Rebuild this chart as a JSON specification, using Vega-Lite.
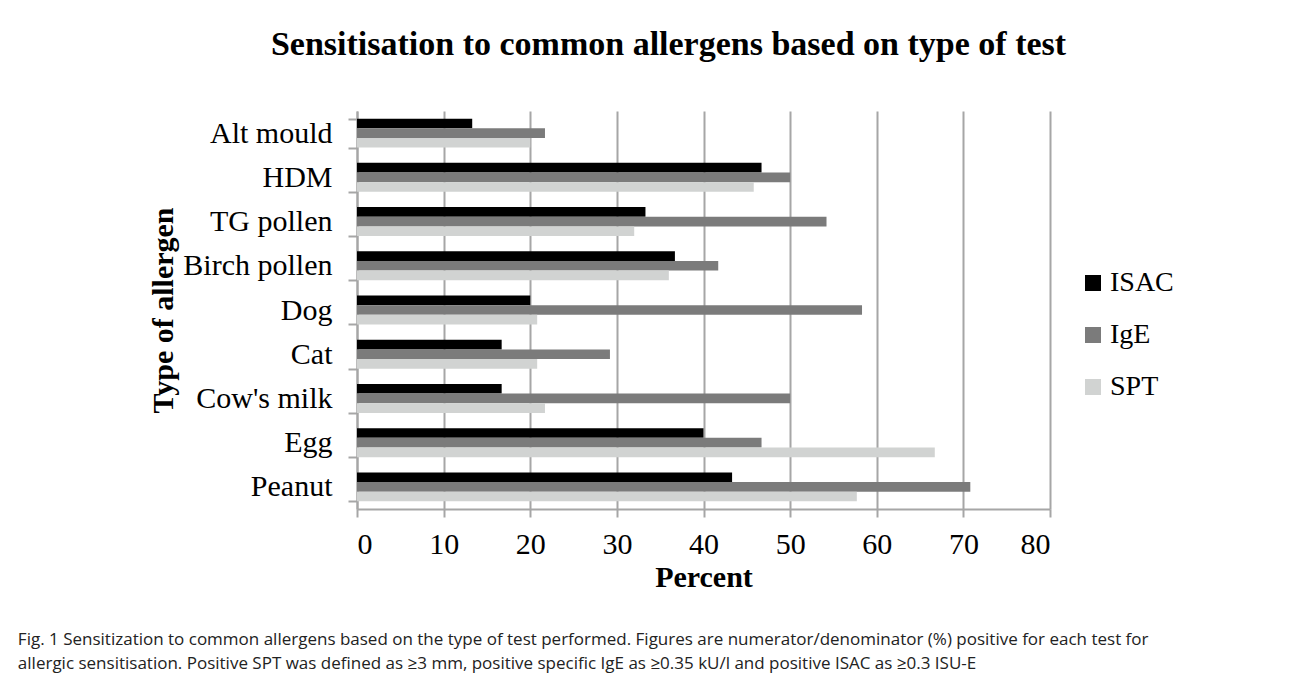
{
  "$schema": "https://vega.github.io/schema/vega-lite/v6.json",
  "background": "white",
  "padding": {"left": 17, "top": 28, "right": 10, "bottom": 10},
  "title": {
    "text": ["Fig. 1  Sensitization to common allergens based on the type of test performed. Figures are numerator/denominator (%) positive for each test for", "allergic sensitisation. Positive SPT was defined as ≥3 mm, positive specific IgE as ≥0.35 kU/l and positive ISAC as ≥0.3 ISU-E"],
    "orient": "bottom",
    "anchor": "start",
    "frame": "bounds",
    "dx": -131,
    "offset": 40,
    "font": "Open Sans",
    "fontSize": 17,
    "fontWeight": "normal",
    "color": "#222222",
    "lineHeight": 24
  },
  "vconcat": [
    {
      "width": 693,
      "height": 398,
      "title": {
        "text": "Sensitisation to common allergens based on type of test",
        "font": "Liberation Serif",
        "fontSize": 34,
        "fontWeight": "bold",
        "color": "#000000",
        "anchor": "middle",
        "frame": "group",
        "dx": -35,
        "offset": 34
      },
      "data": {
        "values": [
          {"allergen": "Alt mould", "test": "ISAC", "percent": 13.3},
          {"allergen": "Alt mould", "test": "IgE", "percent": 21.7},
          {"allergen": "Alt mould", "test": "SPT", "percent": 20.0},
          {"allergen": "HDM", "test": "ISAC", "percent": 46.7},
          {"allergen": "HDM", "test": "IgE", "percent": 50.0},
          {"allergen": "HDM", "test": "SPT", "percent": 45.8},
          {"allergen": "TG pollen", "test": "ISAC", "percent": 33.3},
          {"allergen": "TG pollen", "test": "IgE", "percent": 54.2},
          {"allergen": "TG pollen", "test": "SPT", "percent": 32.0},
          {"allergen": "Birch pollen", "test": "ISAC", "percent": 36.7},
          {"allergen": "Birch pollen", "test": "IgE", "percent": 41.7},
          {"allergen": "Birch pollen", "test": "SPT", "percent": 36.0},
          {"allergen": "Dog", "test": "ISAC", "percent": 20.0},
          {"allergen": "Dog", "test": "IgE", "percent": 58.3},
          {"allergen": "Dog", "test": "SPT", "percent": 20.8},
          {"allergen": "Cat", "test": "ISAC", "percent": 16.7},
          {"allergen": "Cat", "test": "IgE", "percent": 29.2},
          {"allergen": "Cat", "test": "SPT", "percent": 20.8},
          {"allergen": "Cow's milk", "test": "ISAC", "percent": 16.7},
          {"allergen": "Cow's milk", "test": "IgE", "percent": 50.0},
          {"allergen": "Cow's milk", "test": "SPT", "percent": 21.7},
          {"allergen": "Egg", "test": "ISAC", "percent": 40.0},
          {"allergen": "Egg", "test": "IgE", "percent": 46.7},
          {"allergen": "Egg", "test": "SPT", "percent": 66.7},
          {"allergen": "Peanut", "test": "ISAC", "percent": 43.3},
          {"allergen": "Peanut", "test": "IgE", "percent": 70.8},
          {"allergen": "Peanut", "test": "SPT", "percent": 57.7}
        ]
      },
      "mark": {"type": "bar"},
      "encoding": {
        "y": {
          "field": "allergen",
          "type": "nominal",
          "sort": ["Alt mould", "HDM", "TG pollen", "Birch pollen", "Dog", "Cat", "Cow's milk", "Egg", "Peanut"],
          "scale": {"paddingInner": 0.345, "paddingOuter": 0.1725},
          "axis": {
            "title": "Type of allergen",
            "tickBand": "extent",
            "tickSize": 9,
            "labelPadding": 16,
            "labelLimit": 400,
            "titlePadding": 4,
            "grid": false
          }
        },
        "yOffset": {"field": "test", "sort": ["ISAC", "IgE", "SPT"], "scale": {"paddingInner": 0, "paddingOuter": 0}},
        "x": {
          "field": "percent",
          "type": "quantitative",
          "scale": {"domain": [0, 80], "nice": false},
          "axis": {
            "title": "Percent",
            "values": [0, 10, 20, 30, 40, 50, 60, 70, 80],
            "grid": true,
            "tickSize": 8,
            "labelPadding": 12,
            "titlePadding": 3
          }
        },
        "color": {
          "field": "test",
          "type": "nominal",
          "scale": {"domain": ["ISAC", "IgE", "SPT"], "range": ["#000000", "#7b7b7b", "#d1d3d2"]},
          "legend": {
            "title": null,
            "orient": "none",
            "legendX": 722,
            "legendY": 158,
            "padding": 0,
            "symbolType": "square",
            "symbolSize": 256,
            "symbolStrokeWidth": 0,
            "labelFont": "Liberation Serif",
            "labelFontSize": 28,
            "labelColor": "#000000",
            "labelOffset": 3,
            "rowPadding": 24
          }
        }
      }
    }
  ],
  "config": {
    "view": {"stroke": null},
    "axis": {
      "domainColor": "#a6a6a6",
      "domainWidth": 2,
      "gridColor": "#a6a6a6",
      "gridWidth": 2,
      "gridOpacity": 1,
      "tickColor": "#a6a6a6",
      "tickWidth": 2,
      "labelFont": "Liberation Serif",
      "labelFontSize": 30,
      "labelColor": "#000000",
      "titleFont": "Liberation Serif",
      "titleFontSize": 30,
      "titleFontWeight": "bold",
      "titleColor": "#000000"
    }
  }
}
